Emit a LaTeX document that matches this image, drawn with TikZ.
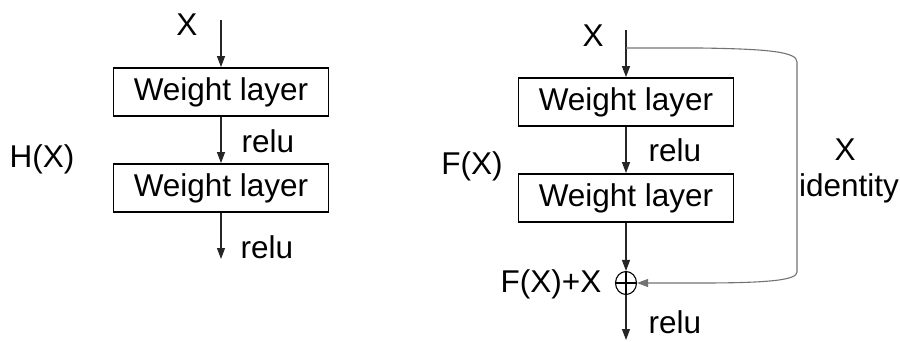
\documentclass[tikz,border=0pt]{standalone}
\usepackage{fontspec}
\setmainfont{Liberation Sans}
\usetikzlibrary{arrows.meta,shapes.geometric}
\begin{document}
\begin{tikzpicture}[x=1pt,y=-1pt,
  every node/.style={font=\fontsize{31.5}{36}\selectfont, inner sep=0pt},
  wbox/.style={draw=black, line width=1.8pt, minimum width=215pt, minimum height=48pt},
  flow/.style={draw=black!85, line width=1.1pt, -{Triangle[length=11pt,width=8pt]}},
  skip/.style={draw=black!55, line width=1.1pt, -{Triangle[length=11pt,width=8pt]}},
  sumnode/.style={draw=black, ellipse, line width=1.1pt, minimum width=21pt, minimum height=23pt}]
\useasboundingbox (0,0) rectangle (900,341);

% plain stack
\coordinate (lin) at (221,20);
\node[wbox] (l1) at (221,92) {Weight layer};
\node[wbox] (l2) at (221,188) {Weight layer};
\coordinate (lout) at (221,259);
\draw[flow] (lin) -- (l1.north);
\draw[flow] (l1.south) -- (l2.north);
\draw[flow] (l2.south) -- (lout);
\node (lx) at (187,25) {X};
\node (lr1) at (268,141) {relu};
\node (lr2) at (267,247) {relu};
\node (hx) at (42,159) {H(X)};

% residual block
\coordinate (rin) at (626,30);
\coordinate (split) at (626,48);
\node[wbox] (r1) at (626,102) {Weight layer};
\node[wbox] (r2) at (626,198) {Weight layer};
\node[sumnode] (sum) at (626,283) {};
\draw[line width=1.1pt] (sum.north) -- (sum.south) (sum.west) -- (sum.east);
\coordinate (rout) at (626,340);
\draw[flow] (rin) -- (r1.north);
\draw[flow] (r1.south) -- (r2.north);
\draw[flow] (r2.south) -- (sum.north);
\draw[flow] (sum.south) -- (rout);

% identity shortcut
\coordinate (c1) at (797,62);
\coordinate (c2) at (797,272);
\draw[skip] (split) -- (700,48) .. controls (770,49) and (797,52) .. (c1)
  -- (c2) .. controls (797,280) and (770,283) .. (700,283) -- (sum.east);

\node (rx) at (593,36) {X};
\node (rr1) at (675,150) {relu};
\node (rr2) at (675,322) {relu};
\node (fx) at (472,166) {F(X)};
\node (fxx) at (551,284) {F(X)+X};
\node (ix) at (845,150) {X};
\node (id) at (849,188) {identity};
\end{tikzpicture}
\end{document}
